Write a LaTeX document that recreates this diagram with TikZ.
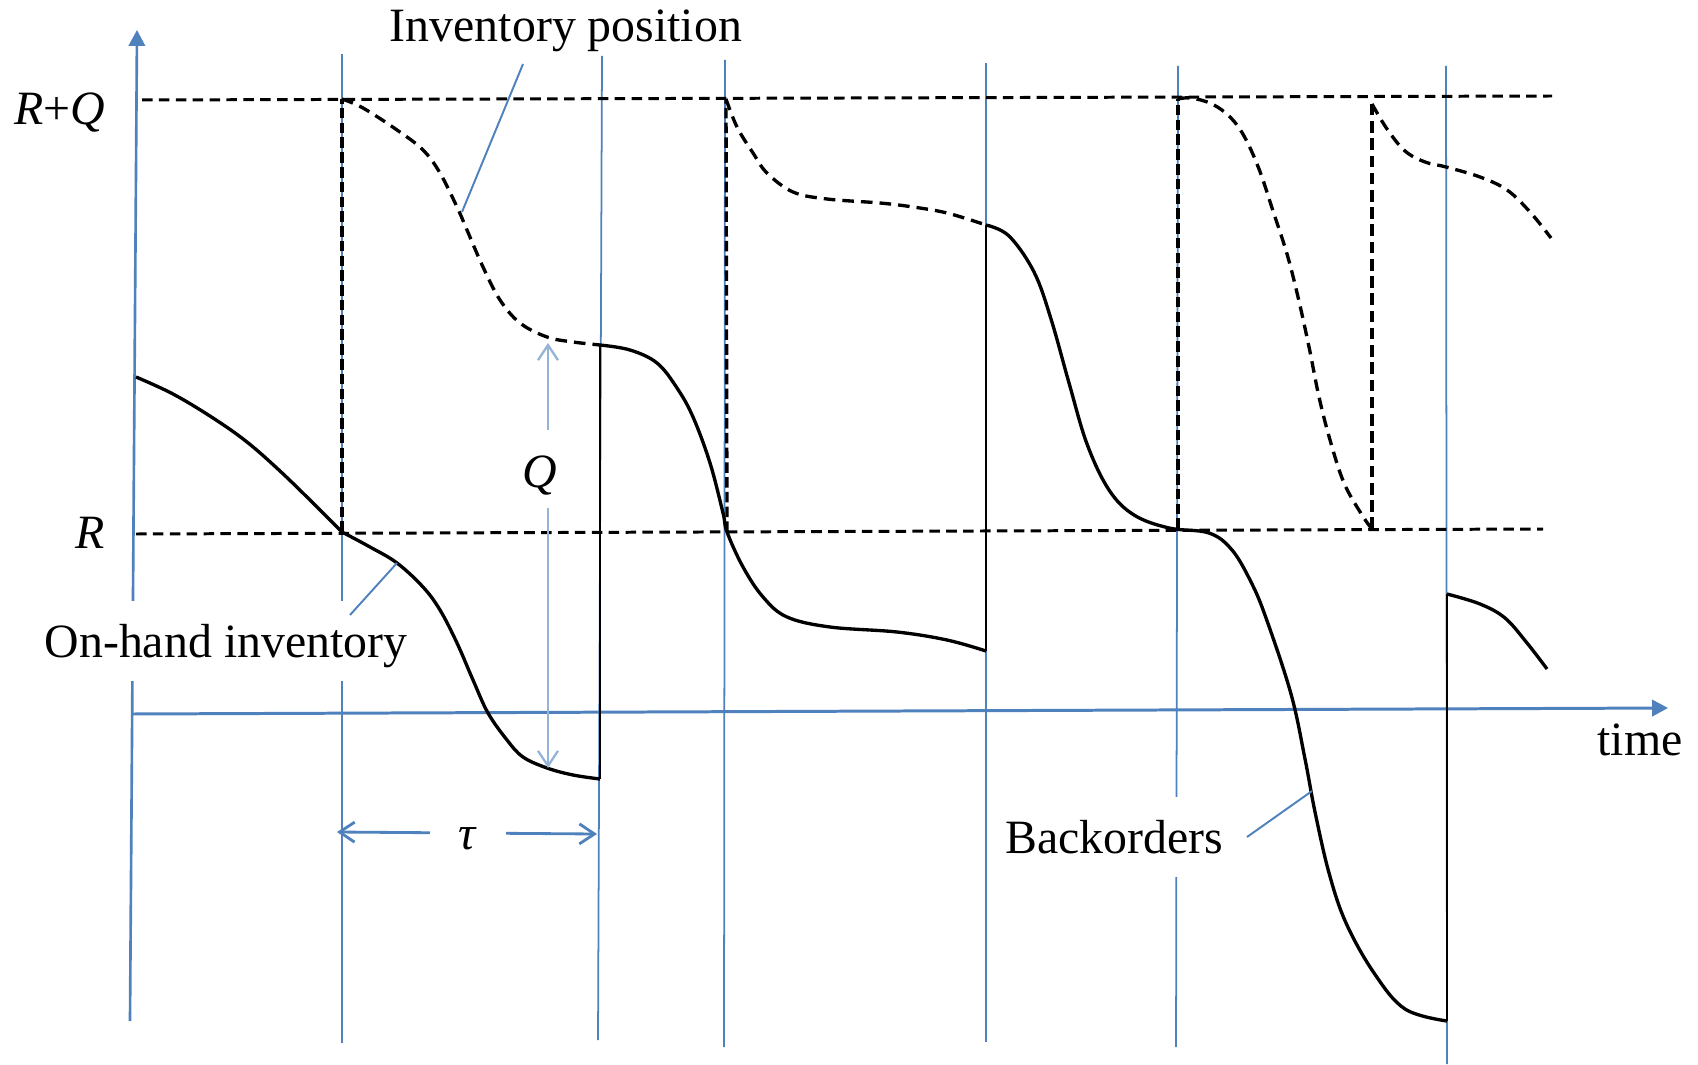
\documentclass[tikz,border=0pt]{standalone}
\usepackage{fontspec}
\setmainfont{Liberation Serif}
\usetikzlibrary{arrows.meta}
\definecolor{lineblue}{HTML}{4F81BD}
\definecolor{lightblue}{HTML}{95B3D7}
\begin{document}
\begin{tikzpicture}[x=0.01cm,y=-0.01cm,
  guide/.style={lineblue,line width=0.5pt},
  axisarrow/.style={lineblue,line width=0.85pt,-{Triangle[length=4.5pt,width=4.6pt]}},
  levelline/.style={black,line width=0.85pt,dash pattern=on 3pt off 1.8pt},
  ipdash/.style={black,line width=0.95pt,dash pattern=on 3.3pt off 2pt,line join=round},
  vdash/.style={black,line width=0.95pt,dash pattern=on 3pt off 1.2pt},
  onhand/.style={black,line width=0.95pt,line join=round},
  jumpline/.style={black,line width=0.65pt},
  lbl/.style={font=\fontsize{13.6}{16}\selectfont,inner sep=0pt,anchor=base},
  boxlbl/.style={lbl,fill=white,text height=0.56cm,text depth=0.24cm,inner xsep=2pt},
  leader/.style={lineblue,line width=0.55pt},
  dimarrow/.style={line width=0.8pt,{Straight Barb[length=4.3pt,width=5.7pt]}-{Straight Barb[length=4.3pt,width=5.7pt]}},
]
\useasboundingbox (0,0) rectangle (1698,1064);

% vertical guide lines
\draw[guide] (342,54) -- (342,1043);
\draw[guide] (602,56) -- (598,1040);
\draw[guide] (725,60) -- (724,1047);
\draw[guide] (986,63) -- (986,1042);
\draw[guide] (1178,66) -- (1176,1047);
\draw[guide] (1446,66) -- (1447,1064);

% axes
\coordinate (yaxB) at (130,1021);
\coordinate (yaxT) at (137,30);
\coordinate (xaxL) at (132,714);
\coordinate (xaxR) at (1668,708);
\draw[axisarrow,line width=0.75pt] (yaxB) -- (yaxT);
\draw[axisarrow] (xaxL) -- (xaxR);

% levels R+Q and R
\draw[levelline] (142,100) -- (1552,96);
\draw[levelline] (136,534) -- (1543,529);

% inventory position (dashed)
\draw[vdash] (342,532) -- (342,99);
\draw[ipdash] plot[smooth,tension=0.6] coordinates {(342,99) (363,108) (397,130) (423,150) (440,173) (457,207) (467,230) (483,267) (500,300) (520,323) (547,337) (573,342) (600,345)};
\draw[vdash] (727,532) -- (726,99);
\draw[ipdash] plot[smooth,tension=0.6] coordinates {(726,99) (737,127) (753,153) (767,173) (793,192) (827,199) (880,203) (913,207) (947,213) (986,225)};
\draw[vdash] (1178,529) -- (1178,99);
\draw[ipdash] plot[smooth,tension=0.6] coordinates {(1178,99) (1191,98) (1212,104) (1230,117) (1244,136) (1259,169) (1273,211) (1287,254) (1298,297) (1309,347) (1319,397) (1330,440) (1344,483) (1362,515) (1372,529)};
\draw[ipdash,dash pattern=on 3.3pt off 1.6pt] (1372,529) -- (1372,104);
\draw[ipdash] plot[smooth,tension=0.6] coordinates {(1372,104) (1387,129) (1405,151) (1425,162) (1446,167) (1480,177) (1507,190) (1530,212) (1551,238)};

% on-hand inventory (solid)
\draw[onhand] plot[smooth,tension=0.6] coordinates {(136,377) (173,394) (213,418) (247,442) (280,471) (313,503) (342,532)};
\draw[onhand] plot[smooth,tension=0.6] coordinates {(342,532) (370,547) (397,563) (423,587) (440,610) (457,643) (473,680) (488,713) (507,740) (523,757) (547,768) (573,775) (600,779)};
\draw[jumpline] (600,779) -- (600,345);
\draw[onhand] plot[smooth,tension=0.6] coordinates {(600,345) (630,350) (657,363) (677,388) (693,417) (710,463) (723,513) (727,532) (743,567) (763,597) (787,617) (830,627) (897,632) (947,640) (986,651)};
\draw[jumpline] (986,651) -- (986,225);
\draw[onhand] plot[smooth,tension=0.6] coordinates {(986,225) (1009,236) (1034,272) (1051,319) (1069,383) (1087,444) (1109,490) (1134,515) (1169,528) (1209,533) (1232,550) (1251,582) (1266,618) (1291,694) (1305,759) (1315,812) (1329,873) (1346,923) (1374,973) (1405,1009) (1447,1021)};
\draw[jumpline] (1447,1021) -- (1447,594);
\draw[onhand] plot[smooth,tension=0.6] coordinates {(1447,594) (1480,604) (1505,618) (1527,643) (1547,669)};

% dimension arrows
\coordinate (qtop) at (548,343);
\coordinate (qbot) at (548,768);
\coordinate (tauL) at (337,832);
\coordinate (tauR) at (597,834);
\draw[dimarrow,lightblue,line width=0.65pt] (qtop) -- (qbot);
\draw[dimarrow,lineblue] (tauL) -- (tauR);

% labels
\node[lbl] (ip) at (566,42) {Inventory position};
\node[lbl] (rq) at (60,125) {\textit{R}+\textit{Q}};
\node[lbl] (r) at (90,548) {\textit{R}};
\node[lbl] (time) at (1640,755) {time};
\node[boxlbl] (oh) at (226,657) {On-hand inventory};
\node[boxlbl] (bo) at (1114,853) {Backorders};
\node[lbl,fill=white,text height=0.57cm,text depth=0.21cm] (q) at (540,487) {\textit{Q}};
\node[lbl,fill=white,minimum width=0.76cm,text height=0.3cm,text depth=0.05cm] (tau) at (468,849) {\textit{τ}};

% leaders
\coordinate (ipA) at (523,64);
\coordinate (ipB) at (462,212);
\coordinate (ohA) at (350,615);
\coordinate (ohB) at (397,563);
\coordinate (boA) at (1247,837);
\coordinate (boB) at (1312,791);
\draw[leader] (ipA) -- (ipB);
\draw[leader] (ohA) -- (ohB);
\draw[leader] (boA) -- (boB);
\end{tikzpicture}
\end{document}
